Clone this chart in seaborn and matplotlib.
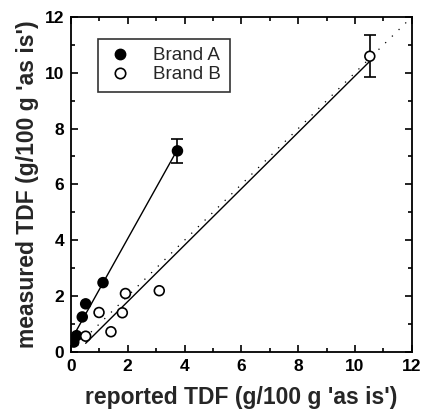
import matplotlib
matplotlib.use("Agg")
import matplotlib.pyplot as plt
import seaborn as sns
import numpy as np
import pandas as pd
from matplotlib.ticker import MultipleLocator

# reported vs measured TDF (g/100 g 'as is')
brand_a_x = [0.1, 0.2, 0.4, 0.52, 1.13, 3.75]
brand_a_y = [0.35, 0.58, 1.25, 1.72, 2.48, 7.2]
brand_a_err = [0, 0, 0, 0, 0, 0.43]

brand_b_x = [0.52, 0.99, 1.41, 1.81, 1.92, 3.11, 10.52]
brand_b_y = [0.56, 1.41, 0.72, 1.40, 2.09, 2.19, 10.59]
brand_b_err = [0, 0, 0, 0, 0, 0, 0.75]

df = pd.DataFrame({
    "reported": brand_a_x + brand_b_x,
    "measured": brand_a_y + brand_b_y,
    "brand": ["Brand A"] * len(brand_a_x) + ["Brand B"] * len(brand_b_x),
})

sns.set_style("ticks")
plt.rcParams["font.family"] = ["Liberation Sans", "DejaVu Sans"]

fig = plt.figure(figsize=(4.22, 4.12), dpi=100)
ax = fig.add_axes([0.168, 0.146, 0.808, 0.813])

# 1:1 line
ax.plot([0, 12], [0, 12], color="black", lw=0.9, linestyle=(0, (1, 6.5)), zorder=1)

# regression lines
for name in ["Brand A", "Brand B"]:
    sub = df[df["brand"] == name]
    sns.regplot(data=sub, x="reported", y="measured", scatter=False, ci=None,
                truncate=True, color="black", line_kws={"lw": 1.0, "zorder": 2}, ax=ax)

# error bars
big_a = int(np.argmax(brand_a_err))
big_b = int(np.argmax(brand_b_err))
ax.errorbar(brand_a_x[big_a], brand_a_y[big_a], yerr=brand_a_err[big_a], fmt="none",
            ecolor="black", elinewidth=1.2, capsize=4, capthick=1.2, zorder=3)
ax.errorbar(brand_b_x[big_b], brand_b_y[big_b], yerr=brand_b_err[big_b], fmt="none",
            ecolor="black", elinewidth=1.2, capsize=4, capthick=1.2, zorder=3)

sns.scatterplot(data=df, x="reported", y="measured", hue="brand", style="brand",
                palette={"Brand A": "black", "Brand B": "white"},
                markers={"Brand A": "o", "Brand B": "o"},
                edgecolor="black", linewidth=1.2, s=50, zorder=4, ax=ax, legend=False)

ax.set_xlim(0, 12)
ax.set_ylim(0, 12)
ax.xaxis.set_major_locator(MultipleLocator(2))
ax.yaxis.set_major_locator(MultipleLocator(2))
ax.xaxis.set_minor_locator(MultipleLocator(1))
ax.yaxis.set_minor_locator(MultipleLocator(1))
ax.tick_params(which="both", direction="in", top=True, right=True, width=1.2,
               colors="black")
ax.tick_params(which="major", length=5, labelsize=12.5, pad=5)
ax.tick_params(which="minor", length=3)
for lab in ax.get_xticklabels() + ax.get_yticklabels():
    lab.set_fontweight("bold")
for sp in ax.spines.values():
    sp.set_linewidth(1.3)
    sp.set_color("black")

ax.set_xlabel("reported TDF (g/100 g 'as is')", fontsize=16.5, fontweight="bold", labelpad=9)
ax.set_ylabel("measured TDF (g/100 g 'as is')", fontsize=16.5, fontweight="bold", labelpad=4)

h_a = plt.Line2D([], [], marker="o", color="black", markerfacecolor="black",
                 markeredgecolor="black", linestyle="none", markersize=7.5)
h_b = plt.Line2D([], [], marker="o", color="black", markerfacecolor="white",
                 markeredgecolor="black", markeredgewidth=1.2, linestyle="none", markersize=7.5)
leg = ax.legend([h_a, h_b], ["Brand A", "Brand B"], loc="upper left",
                bbox_to_anchor=(0.08, 0.935), fontsize=13.5, frameon=True,
                fancybox=False, edgecolor="black", handletextpad=1.1,
                handlelength=1.4, borderpad=0.45, labelspacing=0.1, borderaxespad=0)
leg.get_frame().set_linewidth(1.2)

fig.savefig("out.png", dpi=100)
